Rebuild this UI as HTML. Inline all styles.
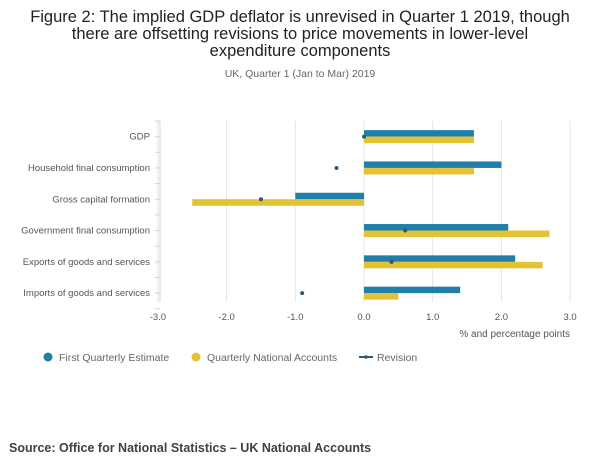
<!DOCTYPE html>
<html><head><meta charset="utf-8"><style>
body{margin:0;background:#fff;width:600px;height:471px;overflow:hidden;font-family:"Liberation Sans",sans-serif}
svg text{font-family:"Liberation Sans",sans-serif}
</style></head><body>
<svg width="600" height="471">
<text x="300" y="22" text-anchor="middle" font-size="16.5" fill="#222">Figure 2: The implied GDP deflator is unrevised in Quarter 1 2019, though</text>
<text x="300" y="39" text-anchor="middle" font-size="16.5" fill="#222">there are offsetting revisions to price movements in lower-level</text>
<text x="300" y="56" text-anchor="middle" font-size="16.5" fill="#222">expenditure components</text>
<text x="300" y="77" text-anchor="middle" font-size="10.5" fill="#666">UK, Quarter 1 (Jan to Mar) 2019</text>
<g id="plot"></g>
<text x="570" y="337" text-anchor="end" font-size="10" fill="#555">% and percentage points</text>
<g>
<circle cx="48" cy="357" r="4.5" fill="#1f7fa8"/>
<text x="59" y="361" font-size="10.5" fill="#666">First Quarterly Estimate</text>
<circle cx="196" cy="357" r="4.5" fill="#e3c233"/>
<text x="207" y="361" font-size="10.5" fill="#666">Quarterly National Accounts</text>
<line x1="359" y1="357" x2="373" y2="357" stroke="#2f5777" stroke-width="2"/>
<circle cx="366" cy="357" r="1.8" fill="#2f5777"/>
<text x="377" y="361" font-size="10.5" fill="#666">Revision</text>
</g>
<text x="9" y="452" font-size="12.5" font-weight="bold" fill="#414042">Source: Office for National Statistics – UK National Accounts</text>
</svg>
<script>
const categories=["GDP","Household final consumption","Gross capital formation","Government final consumption","Exports of goods and services","Imports of goods and services"];
const firstEstimate=[1.6,2.0,-1.0,2.1,2.2,1.4];
const qna=[1.6,1.6,-2.5,2.7,2.6,0.5];
const revision=[0.0,-0.4,-1.5,0.6,0.4,-0.9];
const xTicks=[-3,-2,-1,0,1,2,3];
const NS="http://www.w3.org/2000/svg";
const g=document.getElementById("plot");
const top0=121,step=31.3,x0=364,ppu=68.7;
const xs=v=>x0+v*ppu;
const yc=i=>top0+step*(i+0.5);
function mk(t,a){const e=document.createElementNS(NS,t);for(const k in a)e.setAttribute(k,a[k]);g.appendChild(e);return e;}
xTicks.forEach(t=>{
  const l=mk("line",{x1:xs(t),x2:xs(t),y1:121,y2:302,stroke:"#e4e4e4"});
  
  
  const tx=mk("text",{x:xs(t),y:320,"text-anchor":"middle","font-size":"9.5",fill:"#555"});
  tx.textContent=t.toFixed(1);
  
  
});
const ax=mk("line",{x1:160,x2:160,y1:121,y2:302,stroke:"#ccd6eb"});


for(let k=0;k<=12;k++){const tk=mk("line",{x1:155,x2:160,y1:top0+k*step/2,y2:top0+k*step/2,stroke:"#ccd6eb"});

}
categories.forEach((c,i)=>{
  const y=yc(i);
  const t=mk("text",{x:150,y:y+3,"text-anchor":"end","font-size":"9.5",fill:"#555"});
  t.textContent=c;
  
  
  const a=firstEstimate[i],b=qna[i];
  const r1=mk("rect",{x:Math.min(xs(0),xs(a)),y:y-6.5,width:Math.abs(xs(a)-xs(0)),height:6.5,fill:"#1f7fa8"});
  
  
  const r2=mk("rect",{x:Math.min(xs(0),xs(b)),y:y,width:Math.abs(xs(b)-xs(0)),height:6.5,fill:"#e3c233"});
  
  
  const d=mk("circle",{cx:xs(revision[i]),cy:y,r:2,fill:"#2f5777"});
  
  
});
</script>
</body></html>
